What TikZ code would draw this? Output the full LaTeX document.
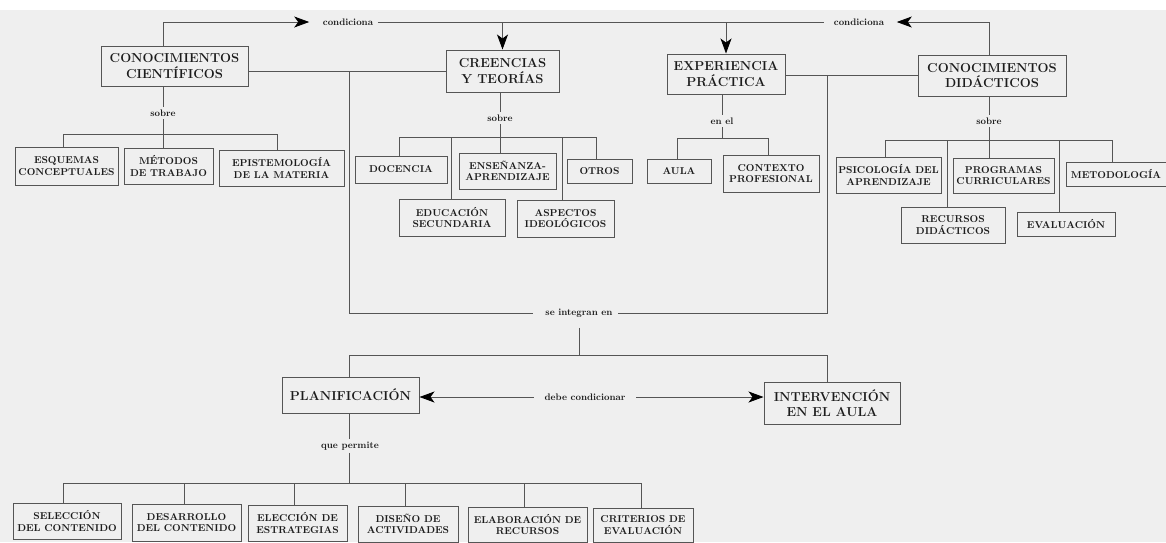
\documentclass[tikz,border=0pt]{standalone}
\usepackage{fontspec}
\usetikzlibrary{arrows.meta}

\definecolor{paper}{HTML}{EFEFEF}
\definecolor{ink}{HTML}{1C1C1C}
\definecolor{rule}{HTML}{555555}

\tikzset{
  dim/.style 2 args={minimum width=#1pt, minimum height=#2pt},
  box/.style={draw=rule, line width=0.9pt, text=ink, align=center, inner sep=0pt,
    font=\fontsize{10}{11.5}\selectfont\bfseries},
  bigbox/.style={box, line width=1pt, font=\fontsize{13}{15.5}\selectfont\bfseries},
  lbl/.style={text=ink, inner sep=2.5pt, font=\fontsize{9.5}{11}\selectfont\bfseries},
  link/.style={draw=rule, line width=0.8pt},
  arr/.style={link, -{Stealth[length=15pt, width=11pt, inset=4pt, color=black]}}
}

\begin{document}
\begin{tikzpicture}[x=1pt, y=-1pt]
\useasboundingbox (0,0) rectangle (1166,542);
\fill[white] (0,0) rectangle (1166,542);
\fill[paper] (0,10) rectangle (1166,542);

% ---- main concepts ----
\node[bigbox, dim={147}{40}] (cc) at (174.5,66) {CONOCIMIENTOS\\CIENTÍFICOS};
\node[bigbox, dim={113}{42}] (ct) at (502.5,71) {CREENCIAS\\Y TEORÍAS};
\node[bigbox, dim={118}{40}] (ep) at (726,74) {EXPERIENCIA\\PRÁCTICA};
\node[bigbox, dim={148}{41}] (cd) at (992,75.5) {CONOCIMIENTOS\\DIDÁCTICOS};
\node[bigbox, dim={137}{36}] (pl) at (350.5,395) {PLANIFICACIÓN};
\node[bigbox, dim={136}{42}] (iv) at (832,403) {INTERVENCIÓN\\EN EL AULA};

% ---- scientific knowledge ----
\node[box, dim={103}{38}] (esq) at (66.5,166) {ESQUEMAS\\CONCEPTUALES};
\node[box, dim={89}{36}] (met) at (168.5,166) {MÉTODOS\\DE TRABAJO};
\node[box, dim={125}{36}] (epi) at (281.5,168) {EPISTEMOLOGÍA\\DE LA MATERIA};

% ---- beliefs and theories ----
\node[box, dim={92}{27}] (doc) at (401,169.5) {DOCENCIA};
\node[box, dim={97}{36}] (ens) at (507.5,171) {ENSEÑANZA-\\APRENDIZAJE};
\node[box, dim={65}{24}] (otr) at (599.5,171) {OTROS};
\node[box, dim={106}{37}] (edu) at (452,217.5) {EDUCACIÓN\\SECUNDARIA};
\node[box, dim={97}{37}] (asp) at (565.5,218.5) {ASPECTOS\\IDEOLÓGICOS};

% ---- practical experience ----
\node[box, dim={64}{24}] (aul) at (679,171) {AULA};
\node[box, dim={96}{37}] (ctx) at (771,173.5) {CONTEXTO\\PROFESIONAL};

% ---- didactic knowledge ----
\node[box, dim={105}{36}] (psi) at (888.5,175) {PSICOLOGÍA DEL\\APRENDIZAJE};
\node[box, dim={101}{35}] (pro) at (1003.5,175.5) {PROGRAMAS\\CURRICULARES};
\node[box, dim={100}{24}] (mtd) at (1116,174) {METODOLOGÍA};
\node[box, dim={104}{36}] (rec) at (953,225) {RECURSOS\\DIDÁCTICOS};
\node[box, dim={98}{24}] (eva) at (1066,224) {EVALUACIÓN};

% ---- planning ----
\node[box, dim={108}{36}] (sel) at (67,521) {SELECCIÓN\\DEL CONTENIDO};
\node[box, dim={109}{37}] (des) at (186.5,522.5) {DESARROLLO\\DEL CONTENIDO};
\node[box, dim={99}{36}] (ele) at (297.5,523) {ELECCIÓN DE\\ESTRATEGIAS};
\node[box, dim={100}{36}] (dis) at (408,524) {DISEÑO DE\\ACTIVIDADES};
\node[box, dim={119}{35}] (ela) at (527.5,524.5) {ELABORACIÓN DE\\RECURSOS};
\node[box, dim={100}{34}] (cri) at (643,525) {CRITERIOS DE\\EVALUACIÓN};

% ---- top "condiciona" links ----
\node[lbl] (cond1) at (348,22) {condiciona};
\node[lbl] (cond2) at (859,22) {condiciona};
\coordinate (tA) at (163,0);
\coordinate (tD) at (989,0);
\draw[arr] (cc.north -| tA) |- ([xshift=-11pt]cond1.west);
\draw[arr] (cd.north -| tD) |- ([xshift=10pt]cond2.east);
\draw[link] ([xshift=2pt]cond1.east) -- ([xshift=-7pt]cond2.west);
\draw[arr] (ct.north |- cond1) -- (ct.north);
\draw[arr] (ep.north |- cond1) -- (ep.north);

% ---- joining lines ----
\draw[link] (cc.east |- ct.west) -- (ct.west);
\draw[link] (ep.east |- cd.west) -- (cd.west);
\coordinate (jL) at (349,71);
\coordinate (jR) at (827,75.5);
\node[lbl] (si) at (579,313) {se integran en};
\draw[link] (jL) |- ([xshift=-10pt]si.west);
\draw[link] (jR) |- ([xshift=3pt]si.east);
\coordinate (sb) at (579,355);
\draw[link] ([yshift=-8pt]si.south) -- (sb);
\draw[link] (pl.north -| jL) |- (sb) -| (iv.north -| jR);

% ---- "debe condicionar" ----
\node[lbl] (dc) at (585,397) {debe condicionar};
\draw[arr] ([xshift=-8pt]dc.west) -- (pl.east |- dc);
\draw[arr] ([xshift=8pt]dc.east) -- (iv.west |- dc);

% ---- tree: scientific knowledge ----
\node[lbl] (s1) at (163,113) {sobre};
\draw[link] (cc.south -| s1) -- (s1.north);
\coordinate (a1) at (63,134);
\coordinate (a2) at (163,134);
\coordinate (a3) at (277,134);
\draw[link] (s1.south) -- (a2);
\draw[link] (a1) -- (a3);
\draw[link] (a1) -- (a1 |- esq.north);
\draw[link] (a2) -- (a2 |- met.north);
\draw[link] (a3) -- (a3 |- epi.north);

% ---- tree: beliefs and theories ----
\node[lbl] (s2) at (500,118) {sobre};
\draw[link] (ct.south -| s2) -- (s2.north);
\coordinate (b1) at (399,137);
\coordinate (b2) at (451,137);
\coordinate (b3) at (500,137);
\coordinate (b4) at (562,137);
\coordinate (b5) at (596,137);
\draw[link] (s2.south) -- (b3);
\draw[link] (b1) -- (b5);
\draw[link] (b1) -- (b1 |- doc.north);
\draw[link] (b2) -- (b2 |- edu.north);
\draw[link] (b3) -- (b3 |- ens.north);
\draw[link] (b4) -- (b4 |- asp.north);
\draw[link] (b5) -- (b5 |- otr.north);

% ---- tree: practical experience ----
\node[lbl] (s3) at (722,121) {en el};
\draw[link] (ep.south -| s3) -- (s3.north);
\coordinate (c1) at (677,138);
\coordinate (c2) at (722,138);
\coordinate (c3) at (768,138);
\draw[link] (s3.south) -- (c2);
\draw[link] (c1) -- (c3);
\draw[link] (c1) -- (c1 |- aul.north);
\draw[link] (c3) -- (c3 |- ctx.north);

% ---- tree: didactic knowledge ----
\node[lbl] (s4) at (989,121) {sobre};
\draw[link] (cd.south -| s4) -- (s4.north);
\coordinate (e1) at (885,140);
\coordinate (e2) at (947,140);
\coordinate (e3) at (989,140);
\coordinate (e4) at (1059,140);
\coordinate (e5) at (1112,140);
\draw[link] (s4.south) -- (e3);
\draw[link] (e1) -- (e5);
\draw[link] (e1) -- (e1 |- psi.north);
\draw[link] (e2) -- (e2 |- rec.north);
\draw[link] (e3) -- (e3 |- pro.north);
\draw[link] (e4) -- (e4 |- eva.north);
\draw[link] (e5) -- (e5 |- mtd.north);

% ---- tree: planning ----
\node[lbl] (s5) at (350,446) {que permite};
\draw[link] (pl.south -| jL) -- (s5.north -| jL);
\coordinate (f1) at (63,483);
\coordinate (f2) at (184,483);
\coordinate (f3) at (294,483);
\coordinate (f4) at (405,483);
\coordinate (f5) at (524,483);
\coordinate (f6) at (641,483);
\coordinate (fm) at (349,483);
\draw[link] (s5.south -| jL) -- (fm);
\draw[link] (f1) -- (f6);
\draw[link] (f1) -- (f1 |- sel.north);
\draw[link] (f2) -- (f2 |- des.north);
\draw[link] (f3) -- (f3 |- ele.north);
\draw[link] (f4) -- (f4 |- dis.north);
\draw[link] (f5) -- (f5 |- ela.north);
\draw[link] (f6) -- (f6 |- cri.north);
\end{tikzpicture}
\end{document}
